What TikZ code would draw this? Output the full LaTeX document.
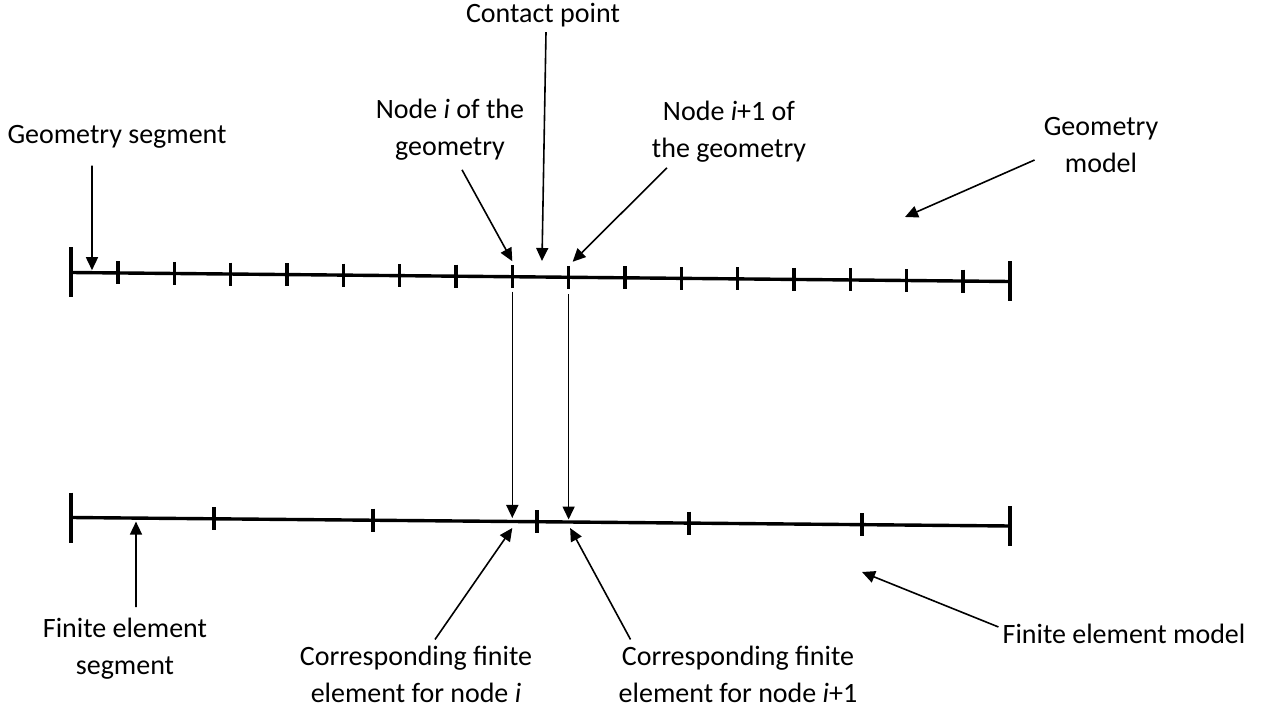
\documentclass[tikz,border=0pt]{standalone}
\usepackage{fontspec}
\setmainfont{Carlito}
\usetikzlibrary{arrows.meta,calc}

\begin{document}
\begin{tikzpicture}[
  x=1pt, y=-1pt,
  >={Triangle[length=13pt,width=12pt]},
  lab/.style={font=\fontsize{28}{37}\selectfont, align=center, inner sep=1pt},
  bar/.style={line width=3.4pt},
  tick/.style={line width=3.4pt},
  arr/.style={->, line width=1.6pt},
]
\useasboundingbox (0,0) rectangle (1264,711);

% ------------------------------------------------------------ geometry model
\coordinate (gL) at (71,272.5);
\coordinate (gR) at (1010,281.5);
\draw[bar] (gL) -- (gR);
\draw[tick] ([yshift=25pt]gL) -- ([yshift=-25pt]gL);
\draw[tick] ([yshift=20pt]gR) -- ([yshift=-20pt]gR);
\foreach \k in {0,...,15}{
  \coordinate (g\k) at ($(gL)!{(47+56.33*\k)/939}!(gR)$);
  \draw[tick] ([yshift=11.5pt]g\k) -- ([yshift=-11.5pt]g\k);
}
\coordinate (gs) at ($(gL)!{21/939}!(gR)$);
\coordinate (cpt) at ($(gL)!{471/939}!(gR)$);
\coordinate (gmt) at (905,217);

% ---------------------------------------------------- finite element model
\coordinate (fL) at (71,517.5);
\coordinate (fR) at (1010,526);
\draw[bar] (fL) -- (fR);
\draw[tick] ([yshift=25pt]fL) -- ([yshift=-25pt]fL);
\draw[tick] ([yshift=20pt]fR) -- ([yshift=-20pt]fR);
\foreach \x [count=\k] in {214,373,537,689,862}{
  \coordinate (f\k) at ($(fL)!{(\x-71)/939}!(fR)$);
  \draw[tick] ([yshift=11.5pt]f\k) -- ([yshift=-11.5pt]f\k);
}
\coordinate (fi) at ($(fL)!{(47+56.33*7)/939}!(fR)$);
\coordinate (fj) at ($(fL)!{(47+56.33*8)/939}!(fR)$);
\coordinate (fs) at ($(fL)!{65/939}!(fR)$);
\coordinate (fmt) at (862,572);

% ------------------------------------------------------------------ labels
\node[lab] (gseg) at (117,137) {Geometry segment};
\node[lab] (cp) at (543,15) {Contact point};
\node[lab] (ni) at (450,130) {Node \textit{i} of the\\geometry};
\node[lab] (nj) at (729,132) {Node \textit{i}+1 of\\the geometry};
\node[lab] (gm) at (1101,145) {Geometry\\model};
\node[lab] (fseg) at (125,649) {Finite element\\segment};
\node[lab] (ci) at (416,674) {Corresponding finite\\element for node \textit{i}};
\node[lab] (cj) at (738,674) {Corresponding finite\\element for node \textit{i}+1};
\node[lab] (fm) at (1124,634) {Finite element model};

% ------------------------------------------------------------------ arrows
\draw[arr, shorten >=2.5pt] (gseg.south) ++(-25,16) -- (gs);
\draw[arr] (cp.south) ++(3,4) -- ([yshift=16pt]cpt);
\draw[arr] (ni.south) ++(12,8) -- ([yshift=15.5pt]g7);
\draw[arr] (nj.south) ++(-62,4) -- ([xshift=4pt,yshift=15.5pt]g8);
\draw[arr] (gm.west) ++(-8,15) -- (gmt);

% node i and i+1 carried down to the finite elements
\draw[arr] (g7) ++(0,15) -- ([yshift=3.5pt]fi);
\draw[arr] (g8) ++(0,17) -- ([yshift=2.5pt]fj);

\draw[arr] (fseg.north) ++(11,-10) -- ([yshift=-3.5pt]fs);
\draw[arr] (ci.north) ++(19,-5) -- ([yshift=-6.5pt]fi);
\draw[arr] (cj.north west) ++(13,-5) -- ([xshift=1.5pt,yshift=-6pt]fj);
\draw[arr] (fm.north west) ++(-3,4) -- (fmt);
\end{tikzpicture}
\end{document}
